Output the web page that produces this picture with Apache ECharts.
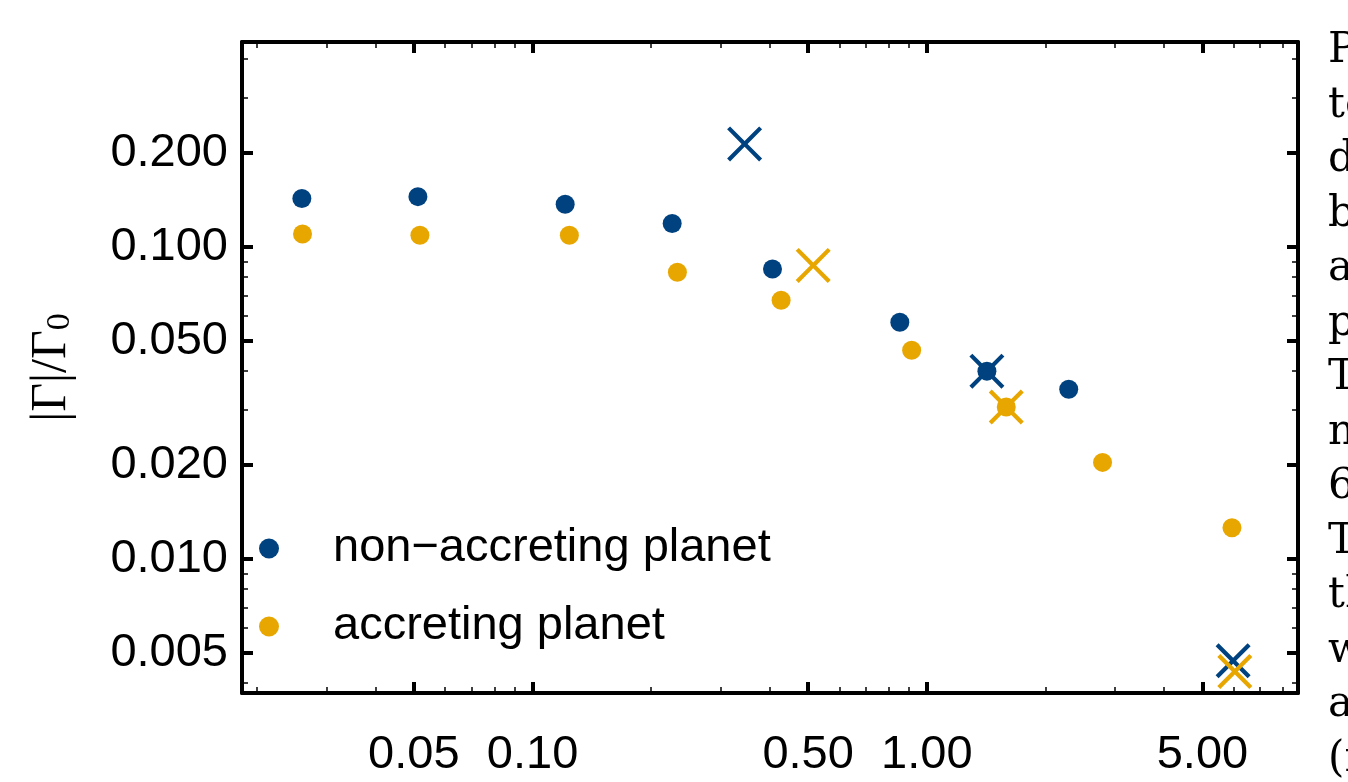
<!DOCTYPE html>
<html>
<head>
<meta charset="utf-8">
<script src="https://cdn.jsdelivr.net/npm/echarts@6/dist/echarts.min.js"></script>
<style>
  html, body { margin: 0; padding: 0; background: #fff; }
  #main { width: 1348px; height: 782px; }
</style>
</head>
<body>
<div id="main"></div>
<script>
// values (log-log)
const nonAccX = [0.0260, 0.0512, 0.121, 0.226, 0.406, 0.854, 1.42, 2.29];
const nonAccY = [0.143, 0.145, 0.137, 0.119, 0.085, 0.0574, 0.040, 0.035];
const accX = [0.0261, 0.0518, 0.124, 0.233, 0.427, 0.915, 1.59, 2.79, 5.94];
const accY = [0.110, 0.109, 0.109, 0.083, 0.0675, 0.0467, 0.0307, 0.0204, 0.0126];
// cross markers
const nonAccCrossX = [0.345, 1.42, 5.98];
const nonAccCrossY = [0.214, 0.040, 0.00472];
const accCrossX = [0.515, 1.59, 6.04];
const accCrossY = [0.0873, 0.0307, 0.00436];
// ticks
const xMajor = [0.05, 0.1, 0.5, 1, 5];
const xMinor = [0.02, 0.03, 0.04, 0.06, 0.07, 0.08, 0.09, 0.2, 0.3, 0.4, 0.6, 0.7, 0.8, 0.9, 2, 3, 4, 6, 7, 8];
const yMajor = [0.005, 0.01, 0.02, 0.05, 0.1, 0.2];
const yMinor = [0.004, 0.006, 0.007, 0.008, 0.009, 0.03, 0.04, 0.06, 0.07, 0.08, 0.09, 0.3, 0.4];
// caption text cut off at the right edge
const sideLines = ['P', 'te', 'd', 'b', 'a', 'p', 'T', 'n', '6', 'T', 'th', 'w', 'a', '(r'];

const BLUE = '#00427f';
const ORANGE = '#e8a600';
const CROSS = 'path://M0,0.85L0.85,0L5,4.15L9.15,0L10,0.85L5.85,5L10,9.15L9.15,10L5,5.85L0.85,10L0,9.15L4.15,5Z';
const SANS = '"Liberation Sans", Arial, sans-serif';
const SERIF = '"Liberation Serif", "Times New Roman", serif';

const X_MIN = 0.01833, X_MAX = 8.735;
const Y_MIN = 0.00372, Y_MAX = 0.4539;

function pts(xs, ys) {
  return xs.map((x, i) => [x, ys[i]]);
}

function makeAxis(dim, pos, ticks, major, showLabel) {
  const isX = dim === 'x';
  return {
    type: 'log',
    logBase: 10,
    position: pos,
    min: isX ? X_MIN : Y_MIN,
    max: isX ? X_MAX : Y_MAX,
    axisLine: { show: major, onZero: false, lineStyle: { color: '#000', width: 4 } },
    axisTick: {
      show: true,
      inside: true,
      length: major ? 11 : 6,
      customValues: ticks,
      lineStyle: { color: '#000', width: major ? 4 : 1.5 }
    },
    axisLabel: {
      show: showLabel,
      customValues: ticks,
      margin: isX ? 39 : 14,
      color: '#000',
      fontFamily: SANS,
      fontSize: 47,
      formatter: v => Number(v).toFixed(isX ? 2 : 3)
    },
    splitLine: { show: false },
    minorTick: { show: false },
    minorSplitLine: { show: false }
  };
}

const chart = echarts.init(document.getElementById('main'));

const yAxes = [
  makeAxis('y', 'left', yMajor, true, true),
  makeAxis('y', 'left', yMinor, false, false),
  makeAxis('y', 'right', yMajor, true, false),
  makeAxis('y', 'right', yMinor, false, false)
];
yAxes[0].name = '|Γ|/Γ{s|0}';
yAxes[0].nameLocation = 'middle';
yAxes[0].nameRotate = 90;
yAxes[0].nameGap = 165;
yAxes[0].nameTextStyle = {
  fontFamily: SERIF,
  fontSize: 50,
  color: '#000',
  rich: { s: { fontFamily: SERIF, fontSize: 34, color: '#000', verticalAlign: 'bottom' } }
};

const option = {
  animation: false,
  backgroundColor: '#fff',
  grid: { left: 242, right: 50, top: 42, bottom: 89, containLabel: false },
  xAxis: [
    makeAxis('x', 'bottom', xMajor, true, true),
    makeAxis('x', 'bottom', xMinor, false, false),
    makeAxis('x', 'top', xMajor, true, false),
    makeAxis('x', 'top', xMinor, false, false)
  ],
  yAxis: yAxes,
  legend: {
    data: ['non−accreting planet', 'accreting planet'],
    orient: 'vertical',
    left: 254,
    top: 520,
    icon: 'circle',
    itemWidth: 20,
    itemHeight: 20,
    itemGap: 31,
    textStyle: { fontFamily: SANS, fontSize: 47, color: '#000', padding: [0, 0, 0, 49] }
  },
  graphic: [{
    type: 'text',
    x: 1328,
    y: 24,
    style: {
      text: sideLines.join('\n'),
      font: '42px "DejaVu Serif", serif',
      lineHeight: 54.5,
      fill: '#000',
      verticalAlign: 'top'
    }
  }],
  series: [
    {
      name: 'non−accreting planet',
      type: 'scatter',
      symbol: 'circle',
      symbolSize: 19,
      itemStyle: { color: BLUE, opacity: 1 },
      emphasis: { disabled: true },
      data: pts(nonAccX, nonAccY)
    },
    {
      name: 'accreting planet',
      type: 'scatter',
      symbol: 'circle',
      symbolSize: 19,
      itemStyle: { color: ORANGE, opacity: 1 },
      emphasis: { disabled: true },
      data: pts(accX, accY)
    },
    {
      name: 'non−accreting cross',
      type: 'scatter',
      symbol: CROSS,
      symbolSize: 35,
      itemStyle: { color: BLUE, opacity: 1 },
      emphasis: { disabled: true },
      data: pts(nonAccCrossX, nonAccCrossY)
    },
    {
      name: 'accreting cross',
      type: 'scatter',
      symbol: CROSS,
      symbolSize: 35,
      itemStyle: { color: ORANGE, opacity: 1 },
      emphasis: { disabled: true },
      data: pts(accCrossX, accCrossY)
    }
  ]
};

chart.setOption(option);
</script>
</body>
</html>
